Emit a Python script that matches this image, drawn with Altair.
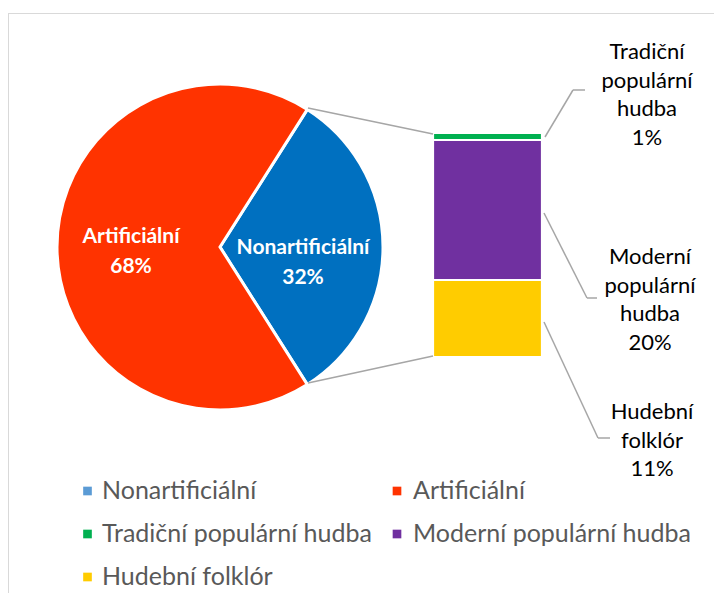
import math
import altair as alt
import pandas as pd

# ---- data ----
main_cats = ["Nonartificiální", "Artificiální"]
main_vals = [32, 68]
sub_cats = ["Tradiční populární hudba", "Moderní populární hudba", "Hudební folklór"]
sub_vals = [1, 20, 11]
legend_order = ["Nonartificiální", "Artificiální", "Tradiční populární hudba",
                "Moderní populární hudba", "Hudební folklór"]

# ---- styles ----
slice_colors = ["#0070C0", "#FF3300", "#00B050", "#7030A0", "#FFCC00"]
legend_colors = ["#5B9BD5", "#FF3300", "#00B050", "#7030A0", "#FFCC00"]
FONT = "Lato"
LINE = "#A6A6A6"

color = alt.Color("cat:N", scale=alt.Scale(domain=legend_order, range=slice_colors), legend=None)

# pie: second slice centred on the right (Excel pie-of-bar)
total = sum(main_vals)
start = math.pi / 2 - math.pi * main_vals[0] / total
pie_df = pd.DataFrame({"cat": main_cats, "val": main_vals, "idx": list(range(len(main_cats)))})
pie = alt.Chart(pie_df).mark_arc(outerRadius=163, stroke="white", strokeWidth=3).encode(
    x=alt.value(212), y=alt.value(239),
    theta=alt.Theta("val:Q", stack=True,
                    scale=alt.Scale(domain=[0, total], range=[start, start + 2 * math.pi])),
    color=color,
    order=alt.Order("idx:Q"),
)

# stacked bar (bottom = last category)
bar_df = pd.DataFrame({"cat": sub_cats, "val": sub_vals,
                       "idx": list(range(len(sub_cats)))[::-1]})
bar = alt.Chart(bar_df).transform_stack(
    stack="val", groupby=[], as_=["y0", "y1"], sort=[alt.SortField("idx", order="ascending")]
).mark_rect(stroke="white", strokeWidth=2.2).encode(
    x=alt.value(425), x2=alt.value(534),
    y=alt.Y("y0:Q", axis=None,
            scale=alt.Scale(domain=[0, sum(sub_vals)], range=[349, 125])),
    y2="y1:Q",
    color=color,
)

one = pd.DataFrame({"a": [0]})
layers = []

# border (top & left)
layers.append(alt.Chart(one).mark_rule(color="#D9D9D9", strokeWidth=1).encode(
    x=alt.value(0), x2=alt.value(706), y=alt.value(5.5), y2=alt.value(5.5)))
layers.append(alt.Chart(one).mark_rule(color="#D9D9D9", strokeWidth=1).encode(
    x=alt.value(0.5), x2=alt.value(0.5), y=alt.value(5), y2=alt.value(585)))

layers += [pie, bar]

# connector lines pie -> bar, and label leader lines
segments = [
    ((300, 100), (425, 126)),
    ((300, 375), (425, 348)),
    ((537, 129), (565, 82)), ((565, 82), (577, 82)),
    ((536, 205), (579, 290)), ((579, 290), (589, 290)),
    ((536, 314), (590, 430)), ((590, 430), (602, 430)),
]
for (x1, y1), (x2, y2) in segments:
    layers.append(alt.Chart(one).mark_rule(color=LINE, strokeWidth=1.5).encode(
        x=alt.value(x1), y=alt.value(y1), x2=alt.value(x2), y2=alt.value(y2)))

# pie labels (y = first line)
pie_label_pos = [(295, 240), (123, 229)]
for cat, val, (px, py) in zip(main_cats, main_vals, pie_label_pos):
    layers.append(alt.Chart(one).mark_text(
        text=f"{cat}\n{val}%", lineBreak="\n", lineHeight=30, font=FONT, fontSize=21,
        fontWeight="bold", color="white", align="center", baseline="middle").encode(
        x=alt.value(px), y=alt.value(py)))

# bar labels (y = first line)
bar_label_pos = [(639, 44), (642, 249), (644, 404)]
for cat, val, (px, py) in zip(sub_cats, sub_vals, bar_label_pos):
    txt = "\n".join(cat.split(" ") + [f"{val}%"])
    layers.append(alt.Chart(one).mark_text(
        text=txt, lineBreak="\n", lineHeight=28.7, font=FONT, fontSize=22,
        color="#000000", align="center", baseline="middle").encode(
        x=alt.value(px), y=alt.value(py)))

# manual legend
col_sw = [79.5, 389]
col_tx = [94, 405]
rows = [483, 526, 569]
for i, (cat, col) in enumerate(zip(legend_order, legend_colors)):
    r, c = divmod(i, 2)
    layers.append(alt.Chart(one).mark_square(size=75, color=col, opacity=1).encode(
        x=alt.value(col_sw[c]), y=alt.value(rows[r])))
    layers.append(alt.Chart(one).mark_text(
        text=cat, font=FONT, fontSize=25, color="#595959", align="left",
        baseline="middle").encode(x=alt.value(col_tx[c]), y=alt.value(rows[r])))

chart = alt.layer(*layers).properties(
    width=706, height=585, autosize=alt.AutoSizeParams(type="none"), padding=0
).configure_view(stroke=None)

chart.save("out.html", embed_options={"renderer": "svg", "actions": False})
